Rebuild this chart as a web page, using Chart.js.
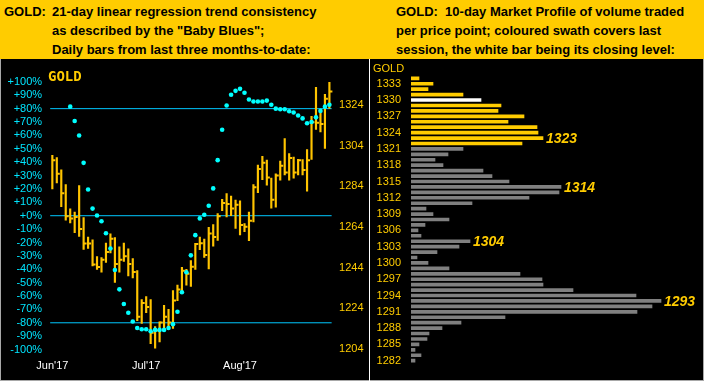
<!DOCTYPE html>
<html><head><meta charset="utf-8">
<script src="https://cdn.jsdelivr.net/npm/chart.js@4.4.1/dist/chart.umd.min.js"></script>
<style>
html,body{margin:0;padding:0;}
body{width:704px;height:381px;background:#a8a8a8;position:relative;overflow:hidden;font-family:"Liberation Sans",Arial,sans-serif;}
#hdr{position:absolute;left:0;top:0;width:704px;height:59px;background:#FFCC00;}
.ht{position:absolute;font-weight:bold;font-size:13px;color:#000;white-space:pre;line-height:19px;}
#panel{position:absolute;left:1px;top:59px;width:702px;height:321px;background:#000;}
#sep{position:absolute;left:369px;top:59px;width:1px;height:322px;background:#fff;}
#c1wrap{position:absolute;left:2px;top:59px;width:366px;height:321px;}
#c2wrap{position:absolute;left:370px;top:59px;width:332px;height:321px;}
.gl1{position:absolute;left:48px;top:69px;font-family:"DejaVu Sans Mono",monospace;font-weight:bold;font-size:14px;line-height:14px;color:#FFCC00;}
.gl2{position:absolute;left:373px;top:62px;font-size:11px;line-height:13px;color:#FFCC00;}
.pk{position:absolute;font-weight:bold;font-style:italic;font-size:14px;line-height:16px;color:#FFCC00;transform:translateY(-50%);white-space:nowrap;}
</style>
</head>
<body>
<div id="hdr">
  <div class="ht" style="left:4px;top:2px;">GOLD:</div>
  <div class="ht" style="left:52px;top:2px;">21-day linear regression trend consistency
as described by the "Baby Blues";
Daily bars from last three months-to-date:</div>
  <div class="ht" style="left:396px;top:2px;">GOLD:  10-day Market Profile of volume traded
per price point; coloured swath covers last
session, the white bar being its closing level:</div>
</div>
<div id="panel"></div>
<div id="c1wrap"><canvas id="c1"></canvas></div>
<div id="c2wrap"><canvas id="c2"></canvas></div>
<div id="sep"></div>
<div class="gl1">GOLD</div>
<div class="gl2">GOLD</div>
<script>
// ---------- Left chart data ----------
const monthLabels = ["Jun'17", "Jul'17", "Aug'17"];
const monthStartIndex = [0, 21, 42];
const priceTicks = [1204, 1224, 1244, 1264, 1284, 1304, 1324];
const percentTicks = [-100, -90, -80, -70, -60, -50, -40, -30, -20, -10, 0, 10, 20, 30, 40, 50, 60, 70, 80, 90, 100];
const trendLevels = [80, 0, -80];

const highs = [1299.1, 1298.0, 1292.0, 1284.8, 1272.9, 1271.3, 1284.3, 1268.6, 1259.0, 1257.6,
  1249.4, 1249.0, 1256.1, 1260.6, 1258.8, 1254.2, 1256.1, 1253.3, 1248.5, 1242.6,
  1228.3, 1229.8, 1228.3, 1215.0, 1217.4, 1225.5, 1223.5, 1232.7, 1235.4, 1244.2,
  1243.2, 1247.5, 1256.0, 1259.0, 1258.0, 1263.8, 1265.1, 1270.5, 1277.6, 1280.4,
  1279.2, 1277.2, 1276.8, 1265.7, 1271.3, 1284.8, 1294.4, 1298.7, 1296.8, 1288.0,
  1290.1, 1296.3, 1307.4, 1300.0, 1298.3, 1297.2, 1297.1, 1302.0, 1318.3, 1332.6,
  1319.8, 1329.1, 1335.0];
const lows = [1282.7, 1285.6, 1274.0, 1267.3, 1266.0, 1261.2, 1259.3, 1252.9, 1253.4, 1244.8,
  1243.1, 1241.8, 1246.6, 1251.2, 1236.7, 1241.8, 1247.0, 1239.9, 1238.9, 1217.9,
  1216.6, 1221.9, 1206.7, 1204.4, 1207.5, 1213.1, 1214.7, 1214.2, 1227.8, 1231.4,
  1235.4, 1234.8, 1243.1, 1252.8, 1249.0, 1243.4, 1254.5, 1257.4, 1272.0, 1268.9,
  1269.5, 1263.3, 1260.1, 1261.7, 1257.2, 1266.5, 1280.8, 1287.2, 1284.5, 1273.2,
  1273.7, 1286.9, 1289.6, 1286.9, 1288.0, 1289.6, 1289.6, 1281.6, 1297.2, 1311.9,
  1310.6, 1302.6, 1322.2];
const closes = [1296.8, 1290.1, 1280.5, 1269.2, 1268.1, 1268.9, 1263.0, 1255.8, 1255.8, 1245.6,
  1244.3, 1247.9, 1251.7, 1258.2, 1245.8, 1247.9, 1249.6, 1245.8, 1241.9, 1219.9,
  1226.6, 1224.7, 1212.0, 1213.1, 1217.1, 1219.9, 1217.1, 1227.9, 1233.3, 1242.5,
  1241.0, 1244.5, 1255.6, 1256.0, 1250.2, 1260.8, 1259.1, 1269.2, 1275.7, 1275.2,
  1273.0, 1274.9, 1264.9, 1264.1, 1267.0, 1283.5, 1292.5, 1295.5, 1288.3, 1277.3,
  1289.3, 1294.0, 1290.7, 1297.9, 1290.7, 1296.8, 1292.0, 1296.8, 1315.4, 1315.1,
  1314.6, 1327.0, 1330.5];
// "Baby Blues": 21-day linear regression trend consistency (%)
const trend = [null, null, null, null, 81.5, 70.8, 59.9, 39.5, 19.6, 5.3,
  0.2, -4.1, -13.1, -24.5, -40.5, -55.0, -66.0, -72.5, -79.0, -83.9,
  -84.8, -84.8, -86.3, -85.3, -85.3, -85.3, -83.9, -81.0, -71.8, -57.2,
  -42.2, -29.6, -14.5, -2.0, 0.7, 7.5, 20.4, 41.5, 64.2, 82.4,
  90.4, 93.3, 94.8, 91.9, 86.8, 85.3, 85.3, 85.3, 86.0, 82.9,
  80.0, 79.5, 79.5, 78.0, 77.1, 74.9, 72.7, 69.1, 70.0, 73.5,
  78.3, 81.5, 82.9];

// ---------- Right chart data ----------
const profilePrices = [1334, 1333, 1332, 1331, 1330, 1329, 1328, 1327, 1326, 1325, 1324, 1323, 1322,
  1321, 1320, 1319, 1318, 1317, 1316, 1315, 1314, 1313, 1312, 1311, 1310, 1309, 1308,
  1307, 1306, 1305, 1304, 1303, 1302, 1301, 1300, 1299, 1298, 1297, 1296, 1295, 1294,
  1293, 1292, 1291, 1290, 1289, 1288, 1287, 1286, 1285, 1284, 1283, 1282];
const profileVolume = [8, 22, 17, 52, 70, 90, 87, 113, 97, 126, 127, 132, 111,
  52, 37, 24, 32, 72, 81, 98, 150, 148, 118, 61, 15, 22, 38,
  14, 7, 10, 59, 48, 26, 6, 17, 38, 109, 131, 132, 162, 225,
  250, 241, 226, 94, 50, 31, 18, 16, 8, 4, 10, 4];
const sessionHigh = 1334;
const sessionLow = 1322;
const sessionClose = 1330;
const profileLabels = [1323, 1314, 1304, 1293];
const profileLabelStart = 1333;

// ---------- Styles ----------
const BAR = '#FFC400', YEL = '#FFCC00', CYAN = '#00FFFF', LINE = '#00C8FF', PCT = '#00E5FF';
const axisFont = {family: "'Liberation Sans', Arial, sans-serif", size: 11};
const N = highs.length;
const noGrid = {display: false, drawTicks: false};

const levelSets = trendLevels.map(v => ({
  type: 'line', yAxisID: 'yp', order: 5,
  data: [{x: -0.5, y: v}, {x: N - 0.5, y: v}],
  borderColor: LINE, borderWidth: 1, pointRadius: 0, fill: false
}));

new Chart(document.getElementById('c1'), {
  type: 'bar',
  data: {
    datasets: [
      ...levelSets,
      {type: 'bar', yAxisID: 'y', order: 3,
       data: highs.map((h, i) => ({x: i, y: [lows[i], h]})),
       backgroundColor: BAR, borderWidth: 0, barThickness: 1.5},
      {type: 'line', yAxisID: 'y', order: 2, showLine: false,
       data: closes.map((c, i) => ({x: i, y: c})),
       pointStyle: 'dash', pointRadius: 3, pointBorderWidth: 2, borderColor: BAR, pointBorderColor: BAR},
      {type: 'line', yAxisID: 'yp', order: 1, showLine: false,
       data: trend.map((t, i) => ({x: i, y: t})),
       pointStyle: 'circle', pointRadius: 2.3, pointBorderWidth: 0,
       pointBackgroundColor: CYAN, borderColor: CYAN}
    ]
  },
  options: {
    responsive: true, maintainAspectRatio: false, animation: false,
    layout: {padding: {top: 7, left: 0, right: 0, bottom: 0}},
    plugins: {legend: {display: false}, tooltip: {enabled: false}},
    scales: {
      x: {type: 'linear', min: -0.5, max: N + 0.5, offset: false,
          grid: noGrid, border: {display: false},
          afterBuildTicks: s => { s.ticks = monthStartIndex.map(v => ({value: v})); },
          afterFit: s => { s.height = 28; },
          ticks: {color: '#FFFFFF', font: axisFont, padding: 7, autoSkip: false, maxRotation: 0,
                  callback: v => monthLabels[monthStartIndex.indexOf(v)] || ''}},
      y: {type: 'linear', position: 'right', min: 1202.57, max: 1339.3,
          grid: noGrid, border: {display: false},
          afterBuildTicks: s => { s.ticks = priceTicks.map(v => ({value: v})); },
          afterFit: s => { s.width = 31.9; },
          ticks: {color: YEL, font: axisFont, padding: 3, autoSkip: false, callback: v => String(v)}},
      yp: {type: 'linear', position: 'left', min: -101.82, max: 106.18,
           grid: noGrid, border: {display: false},
           afterBuildTicks: s => { s.ticks = percentTicks.map(v => ({value: v})); },
           afterFit: s => { s.width = 48.1; },
           ticks: {color: PCT, font: axisFont, padding: 8, autoSkip: false,
                   callback: v => (v >= 0 ? '+' : '') + v + '%'}}
    }
  }
});

// ---------- Right chart ----------
const pkEls = profileLabels.map(p => {
  const d = document.createElement('div');
  d.className = 'pk'; d.textContent = String(p);
  document.body.appendChild(d);
  return d;
});
const peakLabelPlugin = {
  id: 'peakLabels',
  afterDraw(chart) {
    const xs = chart.scales.x, ys = chart.scales.y;
    const wrap = chart.canvas.parentNode;
    const ox = wrap.offsetLeft, oy = wrap.offsetTop;
    profileLabels.forEach((p, k) => {
      const i = profilePrices.indexOf(p);
      pkEls[k].style.left = (ox + xs.getPixelForValue(profileVolume[i]) + 3) + 'px';
      pkEls[k].style.top = (oy + ys.getPixelForValue(i)) + 'px';
    });
  }
};

new Chart(document.getElementById('c2'), {
  type: 'bar',
  data: {
    labels: profilePrices.map(String),
    datasets: [{
      data: profileVolume,
      backgroundColor: profilePrices.map(p => p === sessionClose ? '#FFFFFF'
        : (p >= sessionLow && p <= sessionHigh ? YEL : '#808080')),
      borderWidth: 0, barThickness: 3
    }]
  },
  plugins: [peakLabelPlugin],
  options: {
    indexAxis: 'y', responsive: true, maintainAspectRatio: false, animation: false,
    layout: {padding: {top: 16.5, bottom: 10.5, right: 2, left: 0}},
    plugins: {legend: {display: false}, tooltip: {enabled: false}},
    scales: {
      x: {display: false, min: 0, max: 289},
      y: {type: 'category', grid: noGrid, border: {display: false},
          afterFit: s => { s.width = 41; },
          ticks: {color: YEL, font: axisFont, padding: 10, autoSkip: false,
                  callback: (v, i) => ((profileLabelStart - profilePrices[i]) % 3 === 0 ? String(profilePrices[i]) : '')}}
    }
  }
});
</script>
</body></html>
